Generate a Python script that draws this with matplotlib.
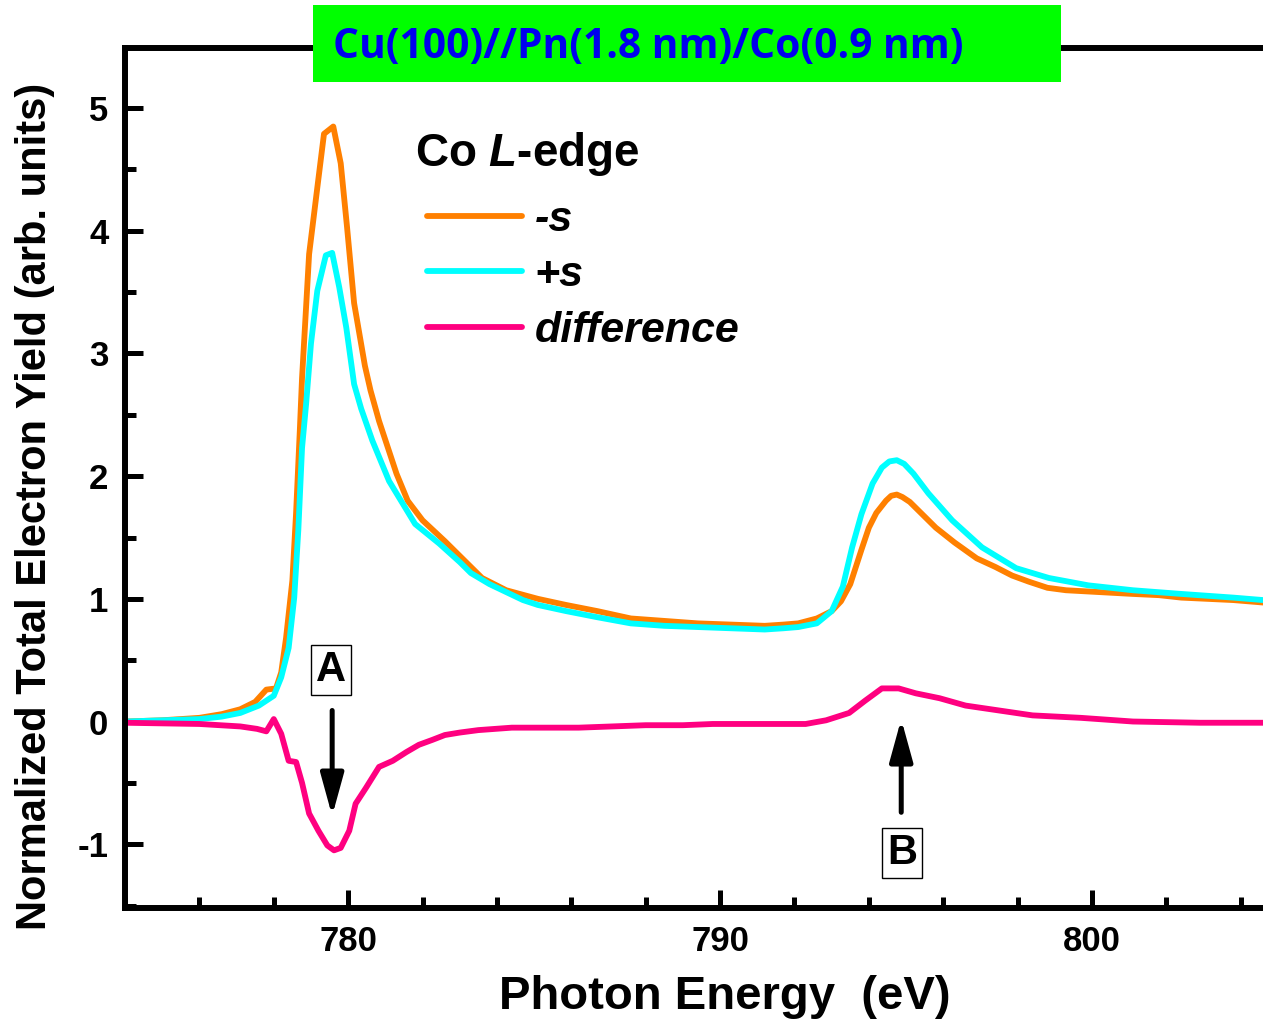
import matplotlib
matplotlib.use("Agg")
import matplotlib.pyplot as plt
from matplotlib.patches import Rectangle
from matplotlib.ticker import MultipleLocator

plt.rcParams['font.family'] = ['Liberation Sans', 'DejaVu Sans']
plt.rcParams['axes.unicode_minus'] = False
plt.rcParams['mathtext.fontset'] = 'custom'
plt.rcParams['mathtext.it'] = 'Liberation Sans:italic:bold'
plt.rcParams['mathtext.rm'] = 'Liberation Sans:bold'

# Co L-edge, -s helicity
e_minus = [774.0, 775.0, 776.0, 776.6, 777.1, 777.5, 777.8, 778.06, 778.2, 778.33,
           778.5, 778.6, 778.7, 778.76, 778.95, 779.17, 779.35, 779.6, 779.8, 779.97,
           780.16, 780.45, 780.6, 780.83, 781.3, 781.6, 782.0, 782.6, 783.0, 783.3,
           783.6, 784.25, 785.1, 785.86, 786.7, 787.6, 788.5, 789.4, 790.3, 791.2,
           791.7, 792.1, 792.6, 793.0, 793.25, 793.5, 793.8, 794.0, 794.2, 794.46,
           794.6, 794.75, 794.9, 795.1, 795.4, 795.8, 796.3, 796.9, 797.4, 797.85,
           798.3, 798.8, 799.3, 799.9, 800.5, 801.1, 801.8, 802.4, 803.1, 803.8, 804.6]
y_minus = [0.00, 0.01, 0.03, 0.06, 0.10, 0.16, 0.26, 0.27, 0.40, 0.68,
           1.15, 1.70, 2.37, 2.80, 3.81, 4.35, 4.79, 4.85, 4.55, 4.03,
           3.41, 2.90, 2.70, 2.45, 2.02, 1.80, 1.64, 1.47, 1.35, 1.26,
           1.17, 1.07, 1.00, 0.95, 0.90, 0.84, 0.82, 0.80, 0.79, 0.78,
           0.79, 0.80, 0.84, 0.90, 0.98, 1.12, 1.40, 1.58, 1.70, 1.80,
           1.84, 1.85, 1.83, 1.79, 1.70, 1.58, 1.46, 1.33, 1.26, 1.19,
           1.14, 1.09, 1.07, 1.06, 1.05, 1.04, 1.03, 1.01, 1.00, 0.99, 0.97]

# +s helicity
e_plus = [774.0, 775.0, 776.0, 776.6, 777.1, 777.6, 778.0, 778.2, 778.4, 778.55,
          778.66, 778.76, 778.87, 779.0, 779.17, 779.4, 779.57, 779.76, 779.95, 780.16,
          780.35, 780.65, 781.1, 781.8, 782.45, 783.0, 783.3, 783.8, 784.7, 785.1,
          785.86, 786.7, 787.6, 788.5, 789.4, 790.3, 791.2, 791.7, 792.1, 792.6,
          793.0, 793.3, 793.55, 793.8, 794.1, 794.35, 794.55, 794.75, 794.95, 795.2,
          795.6, 796.24, 797.04, 797.96, 798.84, 799.9, 800.5, 801.1, 802.4, 803.8, 804.6]
y_plus = [0.00, 0.01, 0.02, 0.04, 0.07, 0.13, 0.21, 0.36, 0.60, 1.01,
          1.56, 2.23, 2.59, 3.08, 3.51, 3.80, 3.82, 3.54, 3.21, 2.75,
          2.55, 2.29, 1.96, 1.61, 1.45, 1.30, 1.21, 1.12, 0.99, 0.95,
          0.90, 0.85, 0.80, 0.78, 0.77, 0.76, 0.75, 0.76, 0.77, 0.80,
          0.90, 1.10, 1.42, 1.69, 1.94, 2.07, 2.12, 2.13, 2.10, 2.02,
          1.86, 1.64, 1.42, 1.25, 1.17, 1.11, 1.09, 1.07, 1.04, 1.01, 0.99]

# difference
e_diff = [774.0, 776.0, 777.1, 777.55, 777.8, 778.0, 778.2, 778.4, 778.6, 778.76,
          778.95, 779.2, 779.44, 779.62, 779.8, 780.03, 780.2, 780.48, 780.83, 781.2,
          781.56, 781.9, 782.26, 782.6, 783.0, 783.5, 784.4, 785.3, 786.2, 787.1,
          788.0, 789.0, 789.8, 790.7, 791.6, 792.3, 792.85, 793.47, 793.9, 794.35,
          794.8, 795.26, 795.9, 796.6, 797.5, 798.4, 799.7, 801.1, 802.9, 804.6]
y_diff = [-0.01, -0.02, -0.04, -0.06, -0.08, 0.02, -0.10, -0.32, -0.33, -0.50,
          -0.75, -0.89, -1.01, -1.05, -1.03, -0.89, -0.67, -0.54, -0.37, -0.32,
          -0.25, -0.19, -0.15, -0.11, -0.09, -0.07, -0.05, -0.05, -0.05, -0.04,
          -0.03, -0.03, -0.02, -0.02, -0.02, -0.02, 0.01, 0.07, 0.17, 0.27,
          0.27, 0.23, 0.19, 0.13, 0.09, 0.05, 0.03, 0.00, -0.01, -0.01]

fig = plt.figure(figsize=(12.63, 10.23), dpi=100)
ax = fig.add_axes([125 / 1263, 115 / 1023, 1153 / 1263, 860 / 1023])

kw = dict(lw=4.2, solid_capstyle='round', solid_joinstyle='round')
ax.plot(e_minus, y_minus, color='#FF8000', label='-s', **kw)
ax.plot(e_plus, y_plus, color='#00FFFF', label='+s', **kw)
ax.plot(e_diff, y_diff, color='#FF0080', label='difference', **kw)

ax.set_xlim(774, 805)
ax.set_ylim(-1.52, 5.49)
ax.xaxis.set_major_locator(MultipleLocator(10))
ax.xaxis.set_minor_locator(MultipleLocator(2))
ax.yaxis.set_major_locator(MultipleLocator(1))
ax.yaxis.set_minor_locator(MultipleLocator(0.5))
ax.tick_params(which='both', direction='in', width=3.6, labelsize=25, pad=12)
ax.tick_params(which='major', length=13)
ax.tick_params(which='minor', length=8)
ax.tick_params(top=False, right=False)
for lab in ax.get_xticklabels() + ax.get_yticklabels():
    lab.set_fontweight('bold')
for s in ax.spines.values():
    s.set_linewidth(4.3)

ax.set_xlabel('Photon Energy  (eV)', fontsize=34, fontweight='bold')
ax.set_ylabel('Normalized Total Electron Yield (arb. units)', fontsize=30,
              fontweight='bold')
ax.xaxis.set_label_coords(0.520, -0.078)
ax.yaxis.set_label_coords(-0.061, 0.467)

# legend
fig.text(415 / 1263, 1 - 154 / 1023, r'Co $\mathit{L}$-edge', fontsize=33,
         fontweight='bold', ha='left', va='center')
leg = ax.legend(loc='upper left', bbox_to_anchor=(427 / 1263, 1 - 200 / 1023),
                bbox_transform=fig.transFigure, frameon=False, borderpad=0,
                borderaxespad=0, handlelength=2.2, handletextpad=0.3,
                labelspacing=0.36, prop=dict(size=31, weight='bold', style='italic'))

# peak markers
box = dict(boxstyle='square,pad=0.12', fc='white', ec='black', lw=1)
arr = dict(arrowstyle='-|>,head_length=0.8,head_width=0.22', lw=3.6, color='black',
           mutation_scale=32, shrinkA=0, shrinkB=0)
ax.text(779.54, 0.42, 'A', fontsize=30, fontweight='bold', ha='center', va='center', bbox=box)
ax.annotate('', xy=(779.57, -0.77), xytext=(779.57, 0.09), arrowprops=arr)
ax.text(794.89, -1.07, 'B', fontsize=30, fontweight='bold', ha='center', va='center', bbox=box)
ax.annotate('', xy=(794.87, 0.02), xytext=(794.87, -0.74), arrowprops=arr)

# sample title banner
fig.patches.append(Rectangle((313 / 1263, 1 - 82 / 1023), 748 / 1263, 77 / 1023,
                             transform=fig.transFigure, facecolor='#00FF00',
                             edgecolor='none', zorder=5))
fig.text(333 / 1263, 1 - 47 / 1023, 'Cu(100)//Pn(1.8 nm)/Co(0.9 nm)', fontsize=29.3,
         fontweight='bold', family='Open Sans', color='#0000EE', ha='left',
         va='center', zorder=6)

fig.savefig('out.png', dpi=100)
